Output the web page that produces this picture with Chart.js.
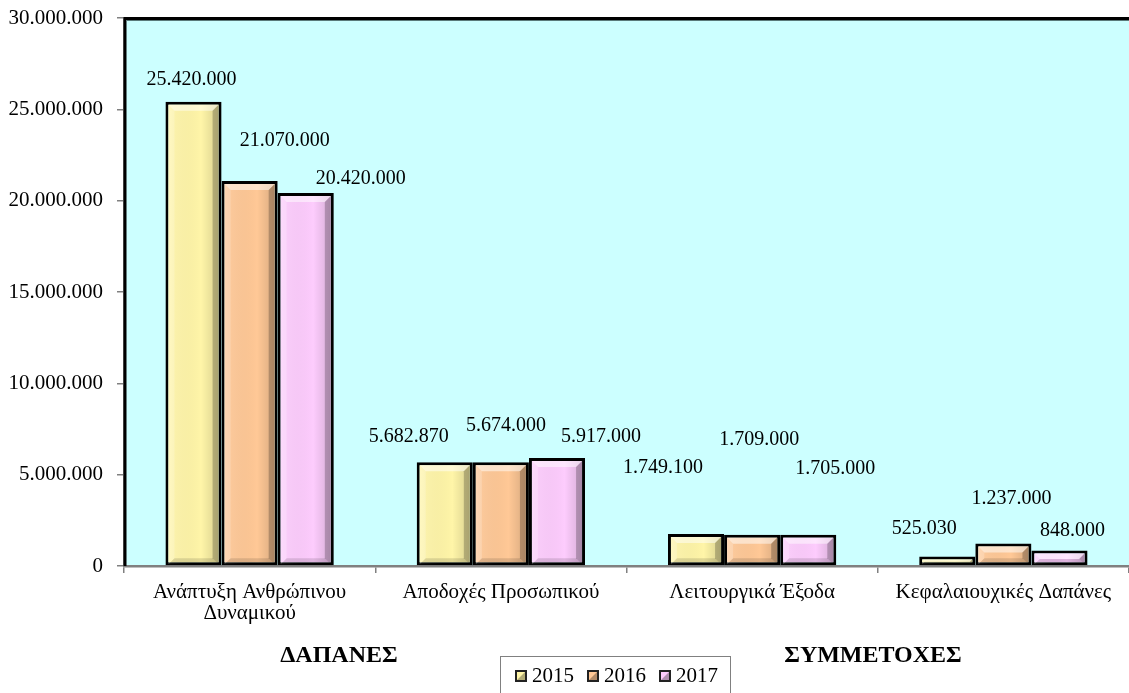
<!DOCTYPE html>
<html>
<head>
<meta charset="utf-8">
<script src="https://cdn.jsdelivr.net/npm/chart.js@4.4.1/dist/chart.umd.min.js"></script>
<style>
  html, body { margin: 0; padding: 0; background: #fff; }
  #wrap { width: 1129px; height: 693px; position: relative; }
</style>
</head>
<body>
<div id="wrap"><canvas id="chart"></canvas></div>
<script>
// ---- data ----
const categories = [
    ['Ανάπτυξη Ανθρώπινου', 'Δυναμικού'],
    'Αποδοχές Προσωπικού',
    'Λειτουργικά Έξοδα',
    'Κεφαλαιουχικές Δαπάνες'
];
const years = ['2015', '2016', '2017'];
const values2015 = [25420000, 5682870, 1749100, 525030];
const values2016 = [21070000, 5674000, 1709000, 1237000];
const values2017 = [20420000, 5917000, 1705000, 848000];
const yMax = 30000000;
const yStep = 5000000;
const groupTitles = ['ΔΑΠΑΝΕΣ', 'ΣΥΜΜΕΤΟΧΕΣ'];

// ---- style ----
const FONT = "'Liberation Serif', 'Times New Roman', serif";
const barColors = ['#FFF5A8', '#FFC896', '#FDCCFD'];
const plotBg = '#CCFFFF';
const axisGray = '#808080';
// label nudges relative to bar centre / top, [dx, dy] per dataset per category
const labelNudge = [
    [[-2, -22], [-36, -25], [-33, -66], [-23, -28]],
    [[35, -40], [5, -37], [7, -95], [8, -45]],
    [[55, -14], [44, -21], [27, -66], [13, -20]]
];

function fmt(v) {
    return String(Math.round(v)).replace(/\B(?=(\d{3})+(?!\d))/g, '.');
}

const plotFrame = {
    id: 'plotFrame',
    beforeDraw(chart) {
        const { ctx, chartArea: a } = chart;
        ctx.save();
        ctx.fillStyle = plotBg;
        ctx.fillRect(a.left, a.top, a.right - a.left, a.bottom - a.top);
        ctx.restore();
    },
    beforeDatasetsDraw(chart) {
        const { ctx, chartArea: a } = chart;
        ctx.save();
        ctx.strokeStyle = '#000';
        ctx.lineWidth = 3;
        ctx.beginPath();
        ctx.moveTo(a.left + 1, a.bottom);
        ctx.lineTo(a.left + 1, a.top + 0.5);
        ctx.lineTo(a.right, a.top + 0.5);
        ctx.stroke();
        ctx.strokeStyle = '#5a7a7a';
        ctx.lineWidth = 1;
        ctx.beginPath();
        ctx.moveTo(a.left + 3, a.top + 2.5);
        ctx.lineTo(a.right, a.top + 2.5);
        ctx.stroke();
        ctx.restore();
    }
};

const bevel = {
    id: 'bevel',
    afterDatasetsDraw(chart) {
        const ctx = chart.ctx;
        chart.data.datasets.forEach((ds, di) => {
            const meta = chart.getDatasetMeta(di);
            meta.data.forEach((el) => {
                const p = el.getProps(['x', 'y', 'base', 'width'], true);
                const bw = ds.borderWidth;
                const l = p.x - p.width / 2 + bw, r = p.x + p.width / 2 - bw;
                const t = p.y + bw, bt = p.base - 1;
                const h = bt - t;
                if (h <= 0) return;
                const b = Math.min(6, h / 2, (r - l) / 2);
                ctx.save();
                const g = ctx.createLinearGradient(l, 0, r, 0);
                g.addColorStop(0, 'rgba(255,255,255,0.1)');
                g.addColorStop(0.65, 'rgba(0,0,0,0)');
                g.addColorStop(1, 'rgba(0,0,0,0.15)');
                ctx.fillStyle = g;
                ctx.fillRect(l, t, r - l, h);
                const poly = (pts, c) => {
                    ctx.beginPath();
                    ctx.moveTo(pts[0][0], pts[0][1]);
                    for (let k = 1; k < pts.length; k++) ctx.lineTo(pts[k][0], pts[k][1]);
                    ctx.closePath();
                    ctx.fillStyle = c;
                    ctx.fill();
                };
                poly([[l, t], [r, t], [r - b, t + b], [l + b, t + b]], 'rgba(255,255,255,0.5)');
                poly([[l, t], [l + b, t + b], [l + b, bt - b], [l, bt]], 'rgba(255,255,255,0.2)');
                poly([[r, t], [r - b, t + b], [r - b, bt - b], [r, bt]], 'rgba(0,0,0,0.22)');
                poly([[l, bt], [l + b, bt - b], [r - b, bt - b], [r, bt]], 'rgba(0,0,0,0.12)');
                ctx.restore();
            });
        });
    }
};

const valueLabels = {
    id: 'valueLabels',
    afterDatasetsDraw(chart) {
        const ctx = chart.ctx;
        ctx.save();
        ctx.font = '20px ' + FONT;
        ctx.fillStyle = '#000';
        ctx.textAlign = 'center';
        ctx.textBaseline = 'middle';
        chart.data.datasets.forEach((ds, di) => {
            chart.getDatasetMeta(di).data.forEach((el, i) => {
                const n = labelNudge[di][i];
                ctx.fillText(fmt(ds.data[i]), el.x + n[0], el.y + n[1]);
            });
        });
        ctx.restore();
    }
};

const extras = {
    id: 'extras',
    afterDraw(chart) {
        const ctx = chart.ctx;
        ctx.save();
        // group titles
        ctx.font = 'bold 24px ' + FONT;
        ctx.fillStyle = '#000';
        ctx.textAlign = 'center';
        ctx.textBaseline = 'middle';
        ctx.fillText(groupTitles[0], 339, 656);
        ctx.fillText(groupTitles[1], 873, 656);

        // legend box
        ctx.strokeStyle = axisGray;
        ctx.lineWidth = 1;
        ctx.strokeRect(500.5, 656.5, 230, 40);
        ctx.font = '21px ' + FONT;
        ctx.textAlign = 'left';
        let x = 515;
        const cy = 676;
        chart.data.datasets.forEach((ds) => {
            ctx.fillStyle = '#222';
            ctx.fillRect(x, cy - 6, 12, 12);
            ctx.fillStyle = ds.backgroundColor;
            ctx.fillRect(x + 2, cy - 4, 8, 8);
            ctx.fillStyle = 'rgba(0,0,0,0.3)';
            ctx.beginPath();
            ctx.moveTo(x + 10, cy - 4);
            ctx.lineTo(x + 10, cy + 4);
            ctx.lineTo(x + 2, cy + 4);
            ctx.closePath();
            ctx.fill();
            ctx.fillStyle = '#000';
            ctx.fillText(ds.label, x + 17, cy);
            x += 17 + ctx.measureText(ds.label).width + 13;
        });
        ctx.restore();
    }
};

new Chart(document.getElementById('chart'), {
    type: 'bar',
    data: {
        labels: categories,
        datasets: [
            { label: years[0], data: values2015, backgroundColor: barColors[0] },
            { label: years[1], data: values2016, backgroundColor: barColors[1] },
            { label: years[2], data: values2017, backgroundColor: barColors[2] }
        ].map(d => Object.assign(d, {
            borderColor: '#000',
            borderWidth: 3,
            borderSkipped: false,
            categoryPercentage: 0.67,
            barPercentage: 1.0
        }))
    },
    options: {
        responsive: true,
        maintainAspectRatio: false,
        animation: false,
        layout: { padding: { top: 18, right: 0, left: 0, bottom: 0 } },
        plugins: {
            legend: { display: false },
            tooltip: { enabled: false }
        },
        scales: {
            x: {
                afterFit(scale) {
                    scale.height = 693 - 18 - 548;
                    scale.paddingLeft = 0;
                    scale.paddingRight = 0;
                },
                grid: {
                    drawOnChartArea: false,
                    drawTicks: true,
                    tickLength: 7,
                    color: axisGray,
                    lineWidth: 1.5,
                    offset: true
                },
                border: { display: true, color: axisGray, width: 2.5 },
                ticks: {
                    font: { family: FONT, size: 21, lineHeight: 1.0 },
                    color: '#000',
                    padding: 9,
                    maxRotation: 0,
                    autoSkip: false
                }
            },
            y: {
                min: 0,
                max: yMax,
                afterFit(scale) {
                    scale.width = 124;
                    scale.paddingTop = 0;
                    scale.paddingBottom = 0;
                },
                grid: {
                    drawOnChartArea: false,
                    drawTicks: true,
                    tickLength: 7,
                    color: axisGray,
                    lineWidth: 1.5
                },
                border: { display: true, color: axisGray, width: 2 },
                ticks: {
                    stepSize: yStep,
                    font: { family: FONT, size: 21 },
                    color: '#000',
                    padding: 14,
                    callback: v => fmt(v)
                }
            }
        }
    },
    plugins: [plotFrame, bevel, valueLabels, extras]
});
</script>
</body>
</html>
